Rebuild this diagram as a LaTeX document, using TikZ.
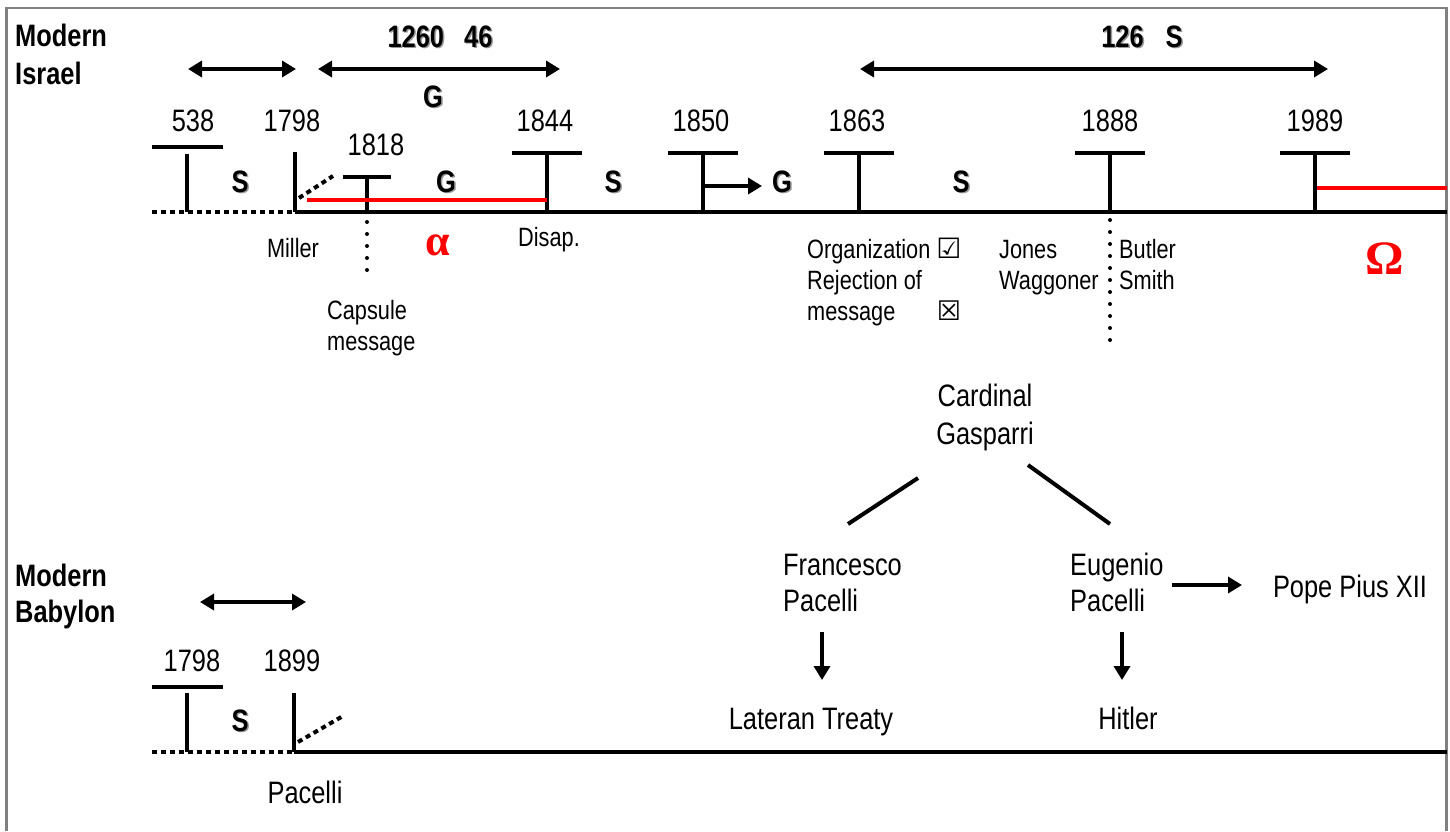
\documentclass[tikz,border=0pt]{standalone}
\usepackage{fontspec}
\setmainfont{Liberation Sans}[FakeStretch=0.82]
\newfontfamily\dejavu{DejaVu Sans}
\newfontfamily\greekserif{Liberation Serif}
\usetikzlibrary{arrows.meta}
\newcommand\shd[1]{\makebox[0pt][l]{\kern1.5pt\raisebox{-1.5pt}{\color{black!40}#1}}#1}
\tikzset{
  big/.style={font=\fontsize{31}{38}\selectfont, inner sep=0pt, anchor=base},
  bigl/.style={font=\fontsize{31}{36}\selectfont, inner sep=0pt, anchor=base west, align=left},
  head/.style={font=\bfseries\fontsize{31}{38}\selectfont, inner sep=0pt, anchor=base west, align=left},
  small/.style={font=\fontsize{26.5}{31}\selectfont, inner sep=0pt, anchor=base west, align=left},
  smallc/.style={font=\fontsize{26.5}{31}\selectfont, inner sep=0pt, anchor=base},
  sgmark/.style={font=\bfseries\fontsize{31}{36}\selectfont, inner sep=0pt, anchor=base},
  greek/.style={font=\greekserif\bfseries\fontsize{44}{44}\selectfont, text=red, inner sep=0pt},
  thick4/.style={line width=4pt},
  tbar/.style={line width=4pt},
  sqdots/.style={line width=4pt, dash pattern=on 5pt off 4pt},
  rdots/.style={line width=4pt, line cap=round, dash pattern=on 0pt off 12pt},
  redline/.style={line width=4pt, red},
  arr/.style={line width=4pt, -{Triangle[length=14pt,width=16pt]}},
  darr/.style={line width=4pt, {Triangle[length=14pt,width=16pt]}-{Triangle[length=14pt,width=16pt]}},
}
\begin{document}
\begin{tikzpicture}[x=1pt,y=-1pt]
\useasboundingbox (0,0) rectangle (1450,831);
% frame
\draw[gray, line width=2.5pt] (6.5,831) -- (6.5,8) -- (1446.5,8) -- (1446.5,831);

% ===== Modern Israel =====
\node[head] (israel) at (15,84) {Modern\\Israel};

% top arrows and labels
\coordinate (a1l) at (188,69); \coordinate (a1r) at (296,69);
\draw[darr] (a1l) -- (a1r);
\coordinate (a2l) at (318,69); \coordinate (a2r) at (560,69);
\draw[darr] (a2l) -- (a2r);
\coordinate (a3l) at (860,69); \coordinate (a3r) at (1328,69);
\draw[darr] (a3l) -- (a3r);
\node[sgmark] (lab1260) at (440,47) {\shd{1260}\hspace{20pt}\shd{46}};
\node[sgmark] (labG) at (433,107) {\shd{G}};
\node[sgmark] (lab126) at (1142,47) {\shd{126}\hspace{22pt}\shd{S}};

% timeline
\coordinate (i0) at (152,212);
\coordinate (i1798) at (295,212);
\coordinate (iend) at (1447,212);
\draw[sqdots] (i0) -- (i1798);
\draw[thick4] (i1798) -- (iend);

% ticks
\draw[tbar] (152,147) -- (223,147);
\draw[tbar] (187,154) -- (187,212);
\draw[tbar] (295,152) -- (295,212);
\draw[tbar] (343,177) -- (391,177);
\draw[tbar] (367,177) -- (367,212);
\foreach \x in {547,703,859,1110,1315}{
  \draw[tbar] (\x-35,153) -- (\x+35,153);
  \draw[tbar] (\x,153) -- (\x,212);
}
% diagonal dotted at 1798
\draw[sqdots] (299,198) -- (333,176);
% red lines
\draw[redline] (307,200) -- (547,200);
\draw[redline] (1317,188) -- (1447,188);
% 1850 arrow
\draw[arr] (703,186) -- (762,186);
% dotted verticals
\draw[rdots] (367,222) -- (367,270);
\draw[rdots] (1110,220) -- (1110,342);

% year labels
\node[big] (y538) at (193,131) {538};
\node[big] (y1798) at (292,131) {1798};
\node[big] (y1818) at (376,155) {1818};
\node[big] (y1844) at (545,131) {1844};
\node[big] (y1850) at (701,131) {1850};
\node[big] (y1863) at (857,131) {1863};
\node[big] (y1888) at (1110,131) {1888};
\node[big] (y1989) at (1315,131) {1989};

% S / G marks
\node[sgmark] (m1) at (240,192) {\shd{S}};
\node[sgmark] (m2) at (446,192) {\shd{G}};
\node[sgmark] (m3) at (613,192) {\shd{S}};
\node[sgmark] (m4) at (782,192) {\shd{G}};
\node[sgmark] (m5) at (961,192) {\shd{S}};

% labels below
\node[smallc] (miller) at (293,257) {Miller};
\node[smallc] (disap) at (549,246) {Disap.};
\node[small] (capsule) at (327,350) {Capsule\\message};
\node[small] (org) at (807,258) {Organization {\dejavu\bfseries\fontsize{28}{28}\selectfont ☑}};
\node[small] (rej) at (807,320) {Rejection of\\message};
\node[font=\dejavu\bfseries\fontsize{27}{27}\selectfont, inner sep=0pt, anchor=base] (xbox) at (949,320) {☒};
\node[small] (jones) at (999,289) {Jones\\Waggoner};
\node[small] (butler) at (1119,289) {Butler\\Smith};
\node[greek] (alpha) at (438,245) {α};
\node[greek, font=\greekserif\bfseries\fontsize{48}{48}\selectfont] (omega) at (1385,259) {Ω};

% ===== Cardinal tree =====
\node[big, align=center] (gasp) at (985,444) {Cardinal\\Gasparri};
\coordinate (gl1) at (918,478); \coordinate (gl2) at (848,524);
\coordinate (gr1) at (1028,465); \coordinate (gr2) at (1110,524);
\draw[thick4] (gl1) -- (gl2);
\draw[thick4] (gr1) -- (gr2);
\node[bigl] (fran) at (783,611) {Francesco\\Pacelli};
\node[bigl] (eug) at (1070,611) {Eugenio\\Pacelli};
\node[big] (pope) at (1350,597) {Pope Pius XII};
\node[big] (lateran) at (811,729) {Lateran Treaty};
\node[big] (hitler) at (1128,729) {Hitler};
\coordinate (f1) at (822,632); \coordinate (f2) at (822,680);
\coordinate (e1) at (1122,632); \coordinate (e2) at (1122,680);
\coordinate (p1) at (1172,585); \coordinate (p2) at (1242,585);
\draw[arr] (f1) -- (f2);
\draw[arr] (e1) -- (e2);
\draw[arr] (p1) -- (p2);

% ===== Modern Babylon =====
\node[head, font=\bfseries\fontsize{31}{36}\selectfont] (babylon) at (15,622) {Modern\\Babylon};
\coordinate (b1l) at (200,602); \coordinate (b1r) at (306,602);
\draw[darr] (b1l) -- (b1r);
\node[big] (by1798) at (192,671) {1798};
\node[big] (by1899) at (292,671) {1899};
\node[sgmark] (bS) at (240,731) {\shd{S}};
\coordinate (b0) at (152,752);
\coordinate (b1899) at (294,752);
\coordinate (bend) at (1447,752);
\draw[sqdots] (b0) -- (b1899);
\draw[thick4] (b1899) -- (bend);
\draw[tbar] (152,687) -- (223,687);
\draw[tbar] (187,693) -- (187,752);
\draw[tbar] (294,693) -- (294,752);
\draw[sqdots] (298,742) -- (343,716);
\node[big] (pacelli) at (305,803) {Pacelli};
\end{tikzpicture}
\end{document}
